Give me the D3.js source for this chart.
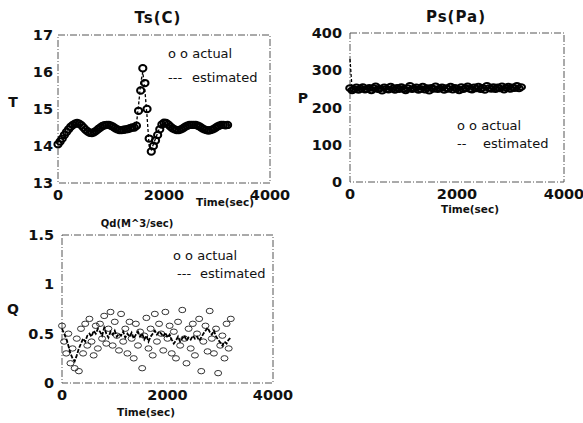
<!DOCTYPE html>
<html>
<head>
<meta charset="utf-8">
<script src="https://cdn.jsdelivr.net/npm/d3@7"></script>
<style>
    body { margin: 0; background: #fff; }
    svg text { font-family: "DejaVu Sans", sans-serif; fill: #111; }
    .tickLabel { font-size: 14.5px; font-weight: bold; }
    .title { font-size: 15px; font-weight: bold; letter-spacing: 1px; }
    .axisLetter { font-size: 14px; font-weight: bold; }
    .timeLabel { font-size: 10.5px; font-weight: bold; }
    .legendText { font-size: 13px; }
</style>
</head>
<body>
<div id="chart"></div>
<script>

// sample times (sec), shared by all three panels
const timeSec = [0,40,80,120,160,200,240,280,320,360,
    400,440,480,520,560,600,640,680,720,760,
    800,840,880,920,960,1000,1040,1080,1120,1160,
    1200,1240,1280,1320,1360,1400,1440,1480,1520,1560,
    1600,1640,1680,1720,1760,1800,1840,1880,1920,1960,
    2000,2040,2080,2120,2160,2200,2240,2280,2320,2360,
    2400,2440,2480,2520,2560,2600,2640,2680,2720,2760,
    2800,2840,2880,2920,2960,3000,3040,3080,3120,3160,
    3200];

// Ts(C)
const tempActual = [14.05,14.12,14.2,14.3,14.38,14.45,14.52,14.57,14.6,14.62,
    14.6,14.56,14.5,14.44,14.39,14.36,14.35,14.37,14.41,14.46,
    14.5,14.54,14.56,14.57,14.57,14.55,14.52,14.48,14.45,14.43,
    14.43,14.44,14.45,14.46,14.48,14.5,14.5,14.55,14.95,15.5,
    16.1,15.7,15.0,14.2,13.85,14.0,14.15,14.3,14.45,14.58,
    14.63,14.62,14.58,14.53,14.48,14.45,14.43,14.43,14.45,14.48,
    14.52,14.55,14.57,14.57,14.57,14.57,14.55,14.52,14.48,14.45,
    14.43,14.42,14.43,14.45,14.48,14.52,14.55,14.57,14.57,14.56,
    14.57];
const tempEstimated = [14.1,14.15,14.22,14.3,14.4,14.46,14.52,14.58,14.6,14.61,
    14.6,14.55,14.5,14.45,14.4,14.37,14.36,14.38,14.42,14.46,
    14.5,14.53,14.56,14.57,14.56,14.54,14.51,14.48,14.45,14.44,
    14.43,14.44,14.45,14.47,14.48,14.5,14.51,14.6,15.1,15.7,
    16.0,15.5,14.8,14.0,13.9,14.05,14.2,14.35,14.5,14.6,
    14.62,14.61,14.57,14.52,14.48,14.45,14.44,14.44,14.46,14.49,
    14.52,14.55,14.56,14.57,14.57,14.56,14.54,14.51,14.48,14.45,
    14.43,14.43,14.44,14.46,14.49,14.52,14.55,14.56,14.57,14.56,
    14.57];

// Ps(Pa)
const pressActual = [252,246,249,254,247,251,255,248,250,253,
    246,252,257,249,251,245,254,250,248,256,
    251,247,253,249,255,250,246,252,258,249,
    251,254,247,250,256,248,252,245,253,250,
    257,249,251,254,247,252,250,256,248,253,
    251,246,255,249,252,257,250,248,254,251,
    256,249,253,247,258,252,250,255,249,254,
    251,257,248,253,256,250,254,252,258,251,
    255];
const pressEstimated = [330,248,250,251,249,251,252,250,251,250,
    249,251,252,250,251,250,252,251,250,252,
    251,250,252,251,250,251,252,250,251,252,
    251,250,252,251,250,252,251,250,251,252,
    253,251,250,252,251,252,250,251,253,252,
    251,250,252,251,253,252,251,250,252,253,
    252,251,253,252,251,253,252,251,253,252,
    253,252,251,253,252,253,252,254,253,252,
    253];

// Qd(M^3/sec)
const flowActual = [0.58,0.42,0.3,0.5,0.2,0.35,0.15,0.45,0.12,0.55,
    0.3,0.6,0.38,0.65,0.42,0.28,0.58,0.35,0.6,0.45,
    0.68,0.4,0.55,0.72,0.38,0.62,0.48,0.33,0.7,0.42,
    0.55,0.3,0.62,0.45,0.25,0.6,0.38,0.52,0.15,0.48,
    0.66,0.35,0.55,0.28,0.7,0.42,0.6,0.5,0.33,0.72,
    0.45,0.58,0.3,0.52,0.25,0.62,0.38,0.74,0.45,0.2,
    0.55,0.35,0.6,0.28,0.5,0.65,0.12,0.42,0.58,0.32,
    0.73,0.45,0.3,0.55,0.1,0.38,0.48,0.25,0.6,0.35,
    0.65];
const flowEstimated = [0.55,0.5,0.45,0.38,0.3,0.25,0.22,0.28,0.35,0.4,
    0.45,0.42,0.48,0.5,0.47,0.53,0.5,0.55,0.52,0.48,
    0.56,0.5,0.46,0.52,0.49,0.53,0.47,0.5,0.48,0.52,
    0.46,0.5,0.47,0.51,0.45,0.49,0.52,0.47,0.5,0.44,
    0.48,0.42,0.47,0.5,0.53,0.49,0.52,0.5,0.47,0.51,
    0.46,0.49,0.44,0.4,0.43,0.47,0.42,0.45,0.48,0.43,
    0.46,0.44,0.48,0.45,0.47,0.43,0.46,0.5,0.53,0.56,
    0.52,0.49,0.53,0.47,0.44,0.41,0.38,0.42,0.4,0.44,
    0.46];

// tick labels
const timeTicks = [0, 2000, 4000];
const tempTicks = [13, 14, 15, 16, 17];
const pressTicks = [0, 100, 200, 300, 400];
const flowTicks = [0, 0.5, 1, 1.5];

const svg = d3.select("#chart").append("svg")
    .attr("width", 583)
    .attr("height", 423);


class TimePanel {

    constructor(_svg, _cfg) {
        this.svg = _svg;
        this.cfg = _cfg;
        this.initVis();
    }

    initVis() {
        let vis = this;
        let c = vis.cfg;

        vis.g = vis.svg.append("g");

        vis.x = d3.scaleLinear().domain([0, 4000]).range([c.left, c.right]);
        vis.y = d3.scaleLinear().domain(c.yDomain).range([c.bottom, c.top]);

        // box round the plot, scanned look
        vis.g.append("rect")
            .attr("x", c.left)
            .attr("y", c.top)
            .attr("width", c.right - c.left)
            .attr("height", c.bottom - c.top)
            .attr("fill", "none")
            .attr("stroke", "#555")
            .attr("stroke-width", 1)
            .attr("stroke-dasharray", "7,2,1,2");

        // y tick labels
        vis.g.selectAll(".yLabel")
            .data(c.yTicks)
            .enter()
            .append("text")
            .attr("class", "tickLabel")
            .attr("x", c.left - c.yGap)
            .attr("y", d => vis.y(d) + 5)
            .attr("text-anchor", "end")
            .text(d => d);

        // x tick labels
        vis.g.selectAll(".xLabel")
            .data(timeTicks)
            .enter()
            .append("text")
            .attr("class", "tickLabel")
            .attr("x", d => vis.x(d))
            .attr("y", c.bottom + 17)
            .attr("text-anchor", "middle")
            .text(d => d);

        vis.g.append("text")
            .attr("class", "timeLabel")
            .attr("x", c.timeX)
            .attr("y", c.timeY)
            .attr("text-anchor", "middle")
            .text("Time(sec)");

        vis.g.append("text")
            .attr("class", "title")
            .attr("x", c.titleX)
            .attr("y", c.titleY)
            .attr("text-anchor", "middle")
            .style("font-size", c.titleSize)
            .style("letter-spacing", c.titleSpacing)
            .text(c.title);

        vis.g.append("text")
            .attr("class", "axisLetter")
            .attr("x", c.letterX)
            .attr("y", c.letterY)
            .attr("text-anchor", "middle")
            .text(c.letter);

        // legend
        vis.g.append("text")
            .attr("class", "legendText")
            .attr("x", c.legendX)
            .attr("y", c.legendY)
            .text("o o actual");

        vis.g.append("text")
            .attr("class", "legendText")
            .attr("x", c.legendX + c.dashDx)
            .attr("y", c.legendY + c.legendStep)
            .text(c.dashText);

        vis.g.append("text")
            .attr("class", "legendText")
            .attr("x", c.legendX + c.estDx)
            .attr("y", c.legendY + c.legendStep)
            .text("estimated");

        vis.wrangleData();
    }

    wrangleData() {
        let vis = this;
        vis.displayData = timeSec.map((t, i) => ({
            t: t,
            actual: vis.cfg.actual[i],
            estimated: vis.cfg.estimated[i]
        }));
        vis.updateVis();
    }

    updateVis() {
        let vis = this;
        let c = vis.cfg;

        vis.g.selectAll(".actualCircle")
            .data(vis.displayData)
            .enter()
            .append("ellipse")
            .attr("class", "actualCircle")
            .attr("cx", d => vis.x(d.t))
            .attr("cy", d => vis.y(d.actual))
            .attr("rx", c.rx)
            .attr("ry", c.ry)
            .attr("fill", "none")
            .attr("stroke", c.circleColor)
            .attr("stroke-width", c.circleWidth);

        let line = d3.line()
            .x(d => vis.x(d.t))
            .y(d => vis.y(d.estimated));

        vis.g.append("path")
            .datum(vis.displayData)
            .attr("d", line)
            .attr("fill", "none")
            .attr("stroke", "#000")
            .attr("stroke-width", c.lineWidth)
            .attr("stroke-dasharray", c.lineDash);
    }
}


new TimePanel(svg, {
    left: 58, right: 270, top: 35, bottom: 183,
    yDomain: [13, 17], yTicks: tempTicks, yGap: 5,
    actual: tempActual, estimated: tempEstimated,
    rx: 3.6, ry: 3.2, circleColor: "#000", circleWidth: 2, lineWidth: 1.3, lineDash: "3,2",
    title: "Ts(C)", titleX: 158, titleY: 23, titleSize: "15px", titleSpacing: "1px",
    letter: "T", letterX: 13, letterY: 107,
    timeX: 225, timeY: 206,
    legendX: 168, legendY: 58, legendStep: 24, dashDx: 0, estDx: 24, dashText: "---"
});

new TimePanel(svg, {
    left: 350, right: 564, top: 33, bottom: 182,
    yDomain: [0, 400], yTicks: pressTicks, yGap: 8,
    actual: pressActual, estimated: pressEstimated,
    rx: 3.8, ry: 2.8, circleColor: "#000", circleWidth: 2, lineWidth: 1.3, lineDash: "3,2",
    title: "Ps(Pa)", titleX: 456, titleY: 22, titleSize: "15px", titleSpacing: "1px",
    letter: "P", letterX: 303, letterY: 103,
    timeX: 470, timeY: 213,
    legendX: 457, legendY: 130, legendStep: 18, dashDx: 0, estDx: 26, dashText: "--"
});

new TimePanel(svg, {
    left: 62, right: 273, top: 235, bottom: 383,
    yDomain: [0, 1.5], yTicks: flowTicks, yGap: 8,
    actual: flowActual, estimated: flowEstimated,
    rx: 3.5, ry: 2.7, circleColor: "#333", circleWidth: 1, lineWidth: 1.8, lineDash: "4,1.5",
    title: "Qd(M^3/sec)", titleX: 137, titleY: 227, titleSize: "10px", titleSpacing: "0px",
    letter: "Q", letterX: 13, letterY: 314,
    timeX: 146, timeY: 416,
    legendX: 173, legendY: 260, legendStep: 18, dashDx: 4, estDx: 27, dashText: "---"
});

</script>
</body>
</html>
